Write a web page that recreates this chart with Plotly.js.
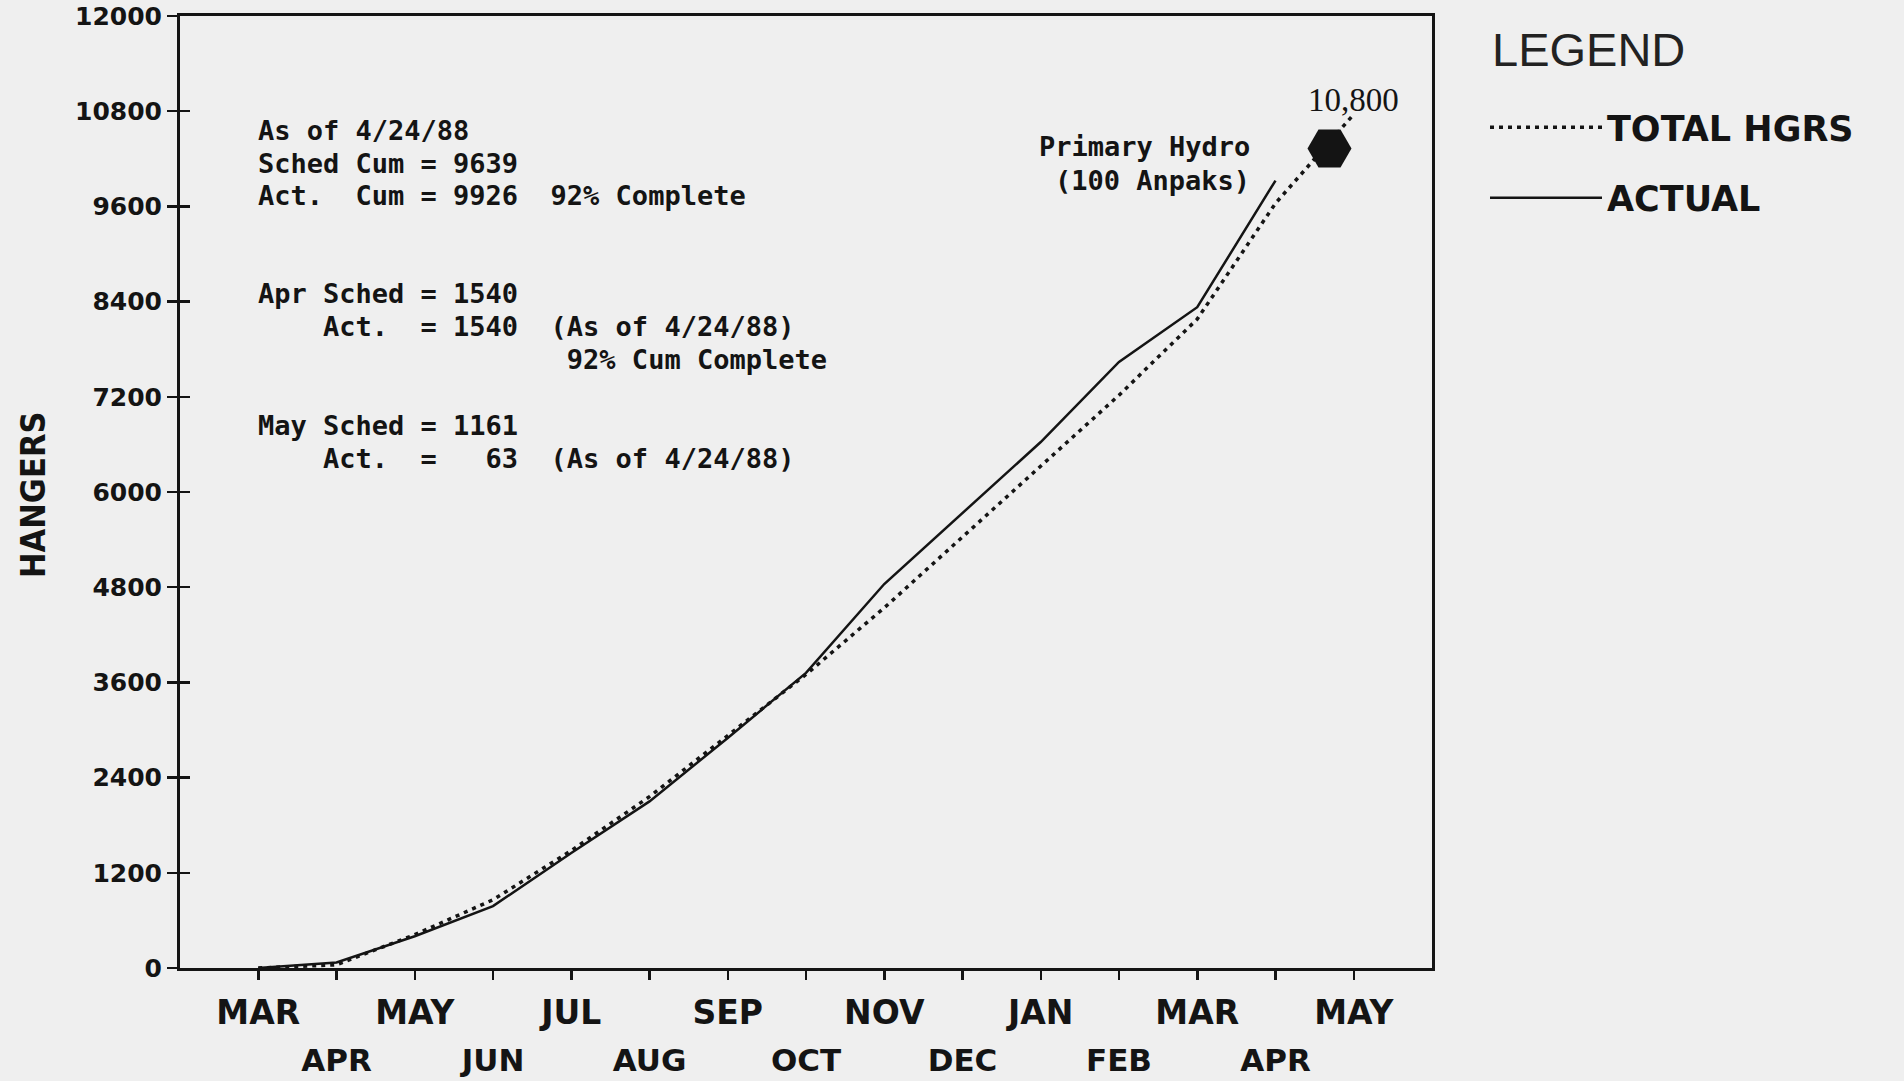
<!DOCTYPE html>
<html>
<head>
<meta charset="utf-8">
<script src="https://cdn.plot.ly/plotly-3.0.1.min.js"></script>
<style>
  html, body { margin: 0; padding: 0; background: #efefef; }
  #chart { width: 1904px; height: 1081px; }
</style>
</head>
<body>
<div id="chart"></div>
<script>
// ---- data (month positions: 0 = FEB at axis origin, 1 = MAR, ... 15 = MAY) ----
const tickPos    = [1, 2, 3, 4, 5, 6, 7, 8, 9, 10, 11, 12, 13, 14, 15];
const tickLabels = ['MAR','APR','MAY','JUN','JUL','AUG','SEP','OCT','NOV','DEC','JAN','FEB','MAR','APR','MAY'];

const totalX = [1, 2, 3, 4, 5, 6, 7, 8, 9, 10, 11, 12, 13, 14, 15];
const totalY = [0, 40, 420, 860, 1480, 2160, 2930, 3700, 4540, 5430, 6330, 7220, 8180, 9639, 10760];

const actualX = [1, 2, 3, 4, 5, 6, 7, 8, 9, 10, 11, 12, 13, 14];
const actualY = [0, 70, 400, 780, 1450, 2100, 2900, 3720, 4840, 5730, 6630, 7640, 8330, 9926];

const hydroX = [14.69];
const hydroY = [10330];

const yTickVals = [0, 1200, 2400, 3600, 4800, 6000, 7200, 8400, 9600, 10800, 12000];
const yTickText = ['0','1200','2400','3600','4800','6000','7200','8400','9600','10800','12000'];

const noteLines = [
  'As of 4/24/88',
  'Sched Cum = 9639',
  'Act.  Cum = 9926  92% Complete',
  'Apr Sched = 1540',
  '    Act.  = 1540  (As of 4/24/88)',
  '                   92% Cum Complete',
  'May Sched = 1161',
  '    Act.  =   63  (As of 4/24/88)'
];
const hydroLines = ['Primary Hydro', '(100 Anpaks)'];

// ---- geometry helpers (pixel layout of the reference) ----
const W = 1904, H = 1081;
const L = 180, R = 1432, T = 16, B = 968;
const px = x => (x - L) / (R - L);
const py = y => (B - y) / (B - T);

const ink = '#141414';
const tickFont = {family: 'DejaVu Sans, Arial, sans-serif', size: 33, weight: 'bold', color: ink};
const tickFont2 = {family: 'DejaVu Sans, Arial, sans-serif', size: 31, weight: 'bold', color: ink};
const monoFont = {family: 'DejaVu Sans Mono, Liberation Mono, monospace', size: 27, weight: 'bold', color: ink};

const row1Text = tickLabels.map((t, i) => (i % 2 === 0 ? t : ''));
const row2Pos = tickPos.filter((p, i) => i % 2 === 1);
const row2Text = tickLabels.filter((t, i) => i % 2 === 1);

const traces = [
  {
    x: totalX, y: totalY, type: 'scatter', mode: 'lines', name: 'TOTAL HGRS',
    legendgroup: 'a',
    line: {color: ink, width: 3.5, dash: '4px,5px'}
  },
  {
    x: actualX, y: actualY, type: 'scatter', mode: 'lines', name: 'ACTUAL',
    legendgroup: 'b',
    line: {color: ink, width: 2.5}
  },
  {
    x: hydroX, y: hydroY, type: 'scatter', mode: 'markers', name: 'Primary Hydro',
    xaxis: 'x2', yaxis: 'y2', showlegend: false,
    marker: {symbol: 'hexagon2', size: 44, color: ink, line: {width: 0}}
  }
];

const yLinesPx = [130, 163, 195, 294, 327, 359, 425, 458];
const annotations = [];
noteLines.forEach((t, i) => {
  annotations.push({
    xref: 'paper', yref: 'paper', x: px(256), y: py(yLinesPx[i]),
    xanchor: 'left', yanchor: 'middle', showarrow: false,
    text: t.replace(/ /g, '\u00a0'), font: monoFont
  });
});
[147, 180].forEach((yy, i) => {
  annotations.push({
    xref: 'paper', yref: 'paper', x: px(1252), y: py(yy),
    xanchor: 'right', yanchor: 'middle', showarrow: false,
    text: hydroLines[i], font: monoFont
  });
});
annotations.push({
  xref: 'paper', yref: 'paper', x: px(1353), y: py(100),
  xanchor: 'center', yanchor: 'middle', showarrow: false,
  text: '10,800', font: {family: 'Liberation Serif, Times New Roman, serif', size: 33, color: ink}
});
annotations.push({
  xref: 'paper', yref: 'paper', x: px(33), y: py(495),
  xanchor: 'center', yanchor: 'middle', showarrow: false, textangle: -90,
  text: 'HANGERS',
  font: {family: 'Liberation Sans Narrow, DejaVu Sans Condensed, Arial Narrow, sans-serif', size: 34, weight: 'bold', color: ink}
});
annotations.push({
  xref: 'paper', yref: 'paper', x: px(1490), y: py(50),
  xanchor: 'left', yanchor: 'middle', showarrow: false,
  text: 'LEGEND',
  font: {family: 'Liberation Sans, Arial, sans-serif', size: 47, color: '#222'}
});

const layout = {
  width: W, height: H,
  paper_bgcolor: '#efefef', plot_bgcolor: '#efefef',
  margin: {l: L, r: W - R, t: T, b: H - B, pad: 0},
  showlegend: true,
  xaxis: {
    range: [0, 16], tickvals: tickPos, ticktext: row1Text,
    ticks: 'outside', ticklen: 9, tickwidth: 2.5, tickcolor: ink,
    showline: true, linewidth: 3, linecolor: ink, mirror: true,
    showgrid: false, zeroline: false, tickfont: tickFont,
    ticklabelstandoff: 4, fixedrange: true
  },
  xaxis2: {
    overlaying: 'x', anchor: 'y2', side: 'bottom', range: [0, 16],
    tickvals: row2Pos, ticktext: row2Text, ticks: '',
    showline: false, showgrid: false, zeroline: false, tickfont: tickFont2,
    ticklabelstandoff: 71, fixedrange: true
  },
  yaxis: {
    range: [0, 12000], tickvals: yTickVals, ticktext: yTickText,
    ticks: 'outside', ticklen: 10, tickwidth: 2.5, tickcolor: ink,
    showline: true, linewidth: 3, linecolor: ink, mirror: true,
    showgrid: false, zeroline: false,
    tickfont: {family: 'DejaVu Sans, Arial, sans-serif', size: 25, weight: 'bold', color: ink},
    fixedrange: true
  },
  yaxis2: {
    overlaying: 'y', anchor: 'x2', side: 'left', range: [0, 12000],
    tickvals: yTickVals, ticks: 'inside', ticklen: 10, tickwidth: 2.5, tickcolor: ink,
    showticklabels: false, showline: false, showgrid: false, zeroline: false,
    fixedrange: true
  },
  legend: {
    x: px(1485), y: py(98), xanchor: 'left', yanchor: 'top',
    bgcolor: 'rgba(0,0,0,0)', borderwidth: 0,
    font: {family: 'DejaVu Sans, Arial, sans-serif', size: 35, weight: 'bold', color: ink},
    tracegroupgap: 22, traceorder: 'grouped', itemwidth: 112
  },
  annotations: annotations
};

Plotly.newPlot('chart', traces, layout, {displayModeBar: false, staticPlot: true});
</script>
</body>
</html>
